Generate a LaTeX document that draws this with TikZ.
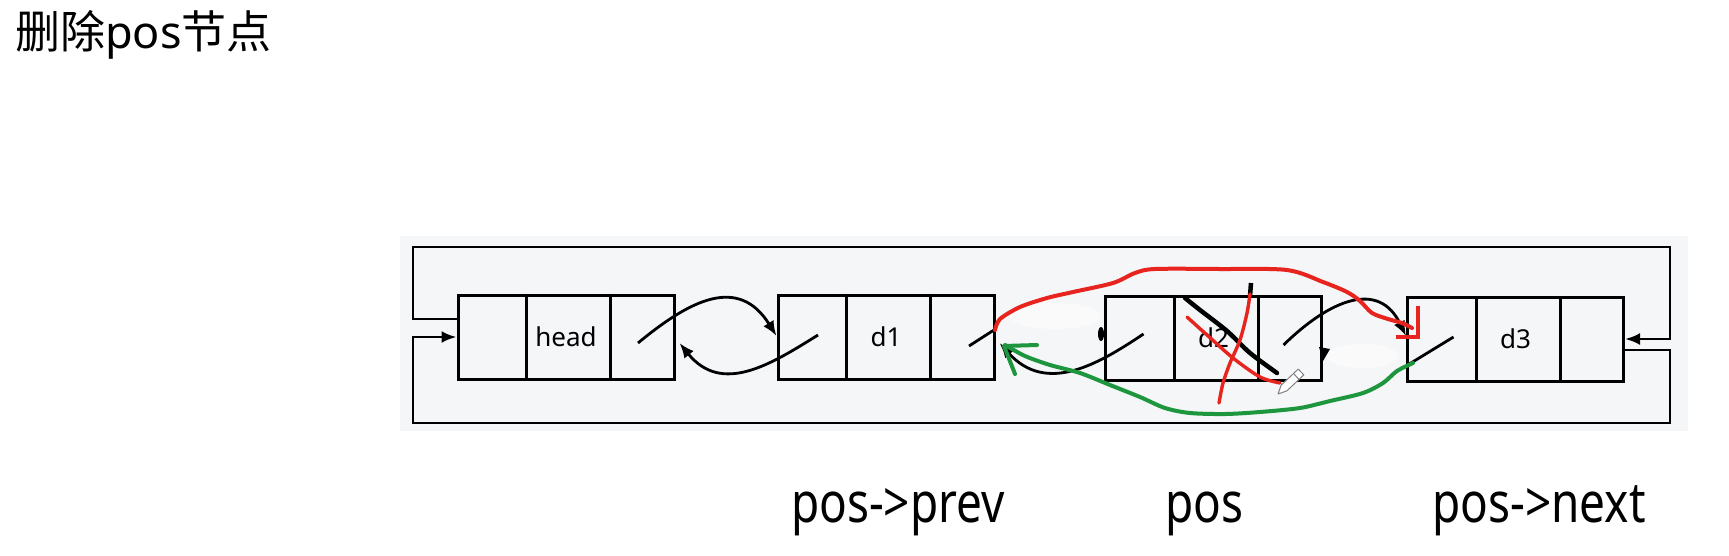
\documentclass[tikz,border=0pt]{standalone}
\usepackage{graphicx}
\usepackage{fontspec}
\setmainfont{Noto Sans}
\newfontfamily\cjk{Noto Sans CJK SC}
\usepackage{tikz}
\usetikzlibrary{arrows.meta}
\definecolor{panel}{RGB}{244,246,248}
\definecolor{penred}{RGB}{232,36,30}
\definecolor{pengreen}{RGB}{30,150,62}

\begin{document}
\begin{tikzpicture}[x=1pt, y=-1pt,
  lnode/.style={draw, line width=3pt, minimum width=216pt, minimum height=84pt, inner sep=0pt, font=\fontsize{26}{30}\selectfont},
  link/.style={line width=2.8pt},
  tip/.style={-{Latex[length=15pt,width=12pt]}},
  redpen/.style={penred, line width=4pt, line cap=round, line join=round},
  greenpen/.style={pengreen, line width=4pt, line cap=round, line join=round},
  lbl/.style={font=\fontsize{56}{62}\selectfont, anchor=base}]
\fill[white] (0,0) rectangle (1729,555);
\useasboundingbox (0,0) rectangle (1729,555);
\fill[panel] (400,236) rectangle (1688,431);
% title
\node[anchor=base west, inner sep=0pt, font=\fontsize{45}{50}\selectfont] (title) at (15,48) {{\cjk 删除}pos{\cjk 节点}};
% list nodes
\node[lnode] (head) at (566,337) {head};
\node[lnode] (d1) at (886,337) {d1};
\node[lnode] (d2) at (1213.5,338) {d2};
\node[lnode] (d3) at (1515.5,339) {d3};
\foreach \n in {head,d1,d2,d3} {
  \draw[line width=3pt] ([xshift=70pt]\n.north west) -- ([xshift=70pt]\n.south west);
  \draw[line width=3pt] ([xshift=154pt]\n.north west) -- ([xshift=154pt]\n.south west);
}
% erased parts
\fill[white, opacity=0.55] (1055,316) ellipse [x radius=46pt, y radius=13pt];
\fill[white, opacity=0.55] (1362,356) ellipse [x radius=36pt, y radius=12pt];
% slash points
\coordinate (hn) at ([xshift=72pt,yshift=-6pt]head.center);
\coordinate (d1p) at ([xshift=-68pt,yshift=2pt]d1.center);
\coordinate (d1n) at ([xshift=83pt,yshift=-9pt]d1.center);
\coordinate (d2p) at ([xshift=-70pt,yshift=4pt]d2.center);
\coordinate (d2n) at ([xshift=70pt,yshift=-7pt]d2.center);
\coordinate (d3p) at ([xshift=-62pt,yshift=2pt]d3.center);
% prev / next links
\draw[link,tip] (hn) .. controls +(52,-43) and +(-38,-61) .. ([yshift=1pt]d1.west);
\draw[link,tip] (d1p) .. controls +(-48,30) and +(42,52) .. ([xshift=4pt,yshift=-6pt]head.east);
\draw[link,tip] (d2p) .. controls +(-45,30) and +(47,52) .. ([xshift=4pt,yshift=-6pt]d1.east);
\draw[link,tip] (d2n) .. controls +(47,-46) and +(-27,-56) .. ([yshift=3pt]d3.west);
\draw[link] (d1n) -- ([yshift=8pt]d1.east);
\draw[link] (d3p) -- ([yshift=-27pt]d3.west);
\fill ([xshift=-3pt,yshift=4pt]d2.west) ellipse [x radius=3pt, y radius=7pt];
\fill (1319,347) -- (1330,349) -- (1323,361) -- cycle;
% circular links
\draw[link,tip] ([yshift=18pt]head.west) -| (413,247) -| (1670,339) -- (d3.east);
\draw[link,tip] ([yshift=-11pt]d3.east) -| (1670,423) -| (413,337) -- (head.west);
% strike over d2
\draw[line width=4.5pt, line cap=round] plot[smooth] coordinates {(1185,298) (1200,310) (1227,331) (1250,353) (1277,373)};
\draw[line width=4.5pt] (1251,283) -- (1250,296);
\draw[redpen, line width=3.4pt] plot[smooth] coordinates {(1250,294) (1247,313) (1240,340) (1230,363) (1223,383) (1219,403)};
\draw[redpen, line width=3.4pt] plot[smooth] coordinates {(1187,317) (1207,335) (1233,358) (1260,377) (1280,383)};
% new next: d1 -> d3
\draw[redpen] plot[smooth, tension=0.5] coordinates {(995,330) (1000,319) (1020,307) (1047,298) (1073,292) (1113,283) (1135,273) (1155,269) (1220,269) (1287,270) (1323,282) (1347,292) (1360,301) (1372,313) (1388,319) (1402,323) (1412,328)};
\draw[redpen, line cap=butt, line join=miter] (1418,306) -- (1418,337) -- (1396,337);
% new prev: d3 -> d1
\draw[greenpen] plot[smooth, tension=0.5] coordinates {(1413,363) (1397,371) (1383,383) (1363,393) (1330,401) (1300,408) (1260,412) (1225,414) (1190,413) (1165,408) (1140,397) (1110,385) (1080,373) (1050,365) (1025,356) (1005,345)};
\draw[greenpen] (1015,374) -- (1004,346) -- (1037,345);
% pencil
\draw[gray, fill=white, line width=1pt, line join=round] (1278,394) -- (1286.8,390.9) -- (1303.8,374.9) -- (1298.2,369.1) -- (1281.2,385.1) -- cycle;
\draw[gray, line width=1pt] (1299,379.5) -- (1293.5,373.5);
% labels
\node[lbl] (lprev) at (898,522) {\scalebox{0.82}[1]{pos->prev}};
\node[lbl] (lpos) at (1204,522) {\scalebox{0.82}[1]{pos}};
\node[lbl] (lnext) at (1539,522) {\scalebox{0.82}[1]{pos->next}};
\end{tikzpicture}
\end{document}
